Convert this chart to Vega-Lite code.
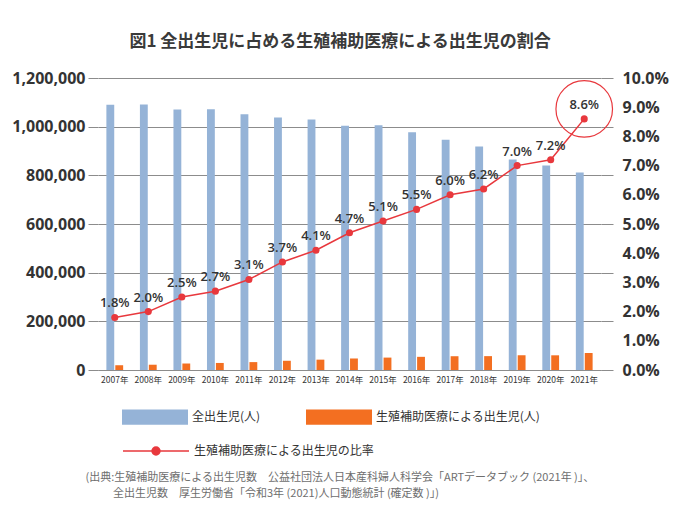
{
  "$schema": "https://vega.github.io/schema/vega-lite/v6.json",
  "width": 503,
  "height": 292,
  "autosize": {"type": "none"},
  "padding": {"left": 98, "top": 78, "right": 99, "bottom": 137},
  "background": "white",
  "title": {
    "text": "図1 全出生児に占める生殖補助医療による出生児の割合",
    "font": "Noto Sans CJK JP",
    "fontSize": 17,
    "fontWeight": "bold",
    "color": "#3a3a3a",
    "anchor": "middle",
    "frame": "bounds",
    "offset": 19
  },
  "datasets": {
    "bars": [
      {"year": "2007年", "series": "全出生児(人)", "value": 1089818},
      {"year": "2007年", "series": "生殖補助医療による出生児(人)", "value": 19595},
      {"year": "2008年", "series": "全出生児(人)", "value": 1091156},
      {"year": "2008年", "series": "生殖補助医療による出生児(人)", "value": 21704},
      {"year": "2009年", "series": "全出生児(人)", "value": 1070036},
      {"year": "2009年", "series": "生殖補助医療による出生児(人)", "value": 26680},
      {"year": "2010年", "series": "全出生児(人)", "value": 1071305},
      {"year": "2010年", "series": "生殖補助医療による出生児(人)", "value": 28945},
      {"year": "2011年", "series": "全出生児(人)", "value": 1050807},
      {"year": "2011年", "series": "生殖補助医療による出生児(人)", "value": 32426},
      {"year": "2012年", "series": "全出生児(人)", "value": 1037232},
      {"year": "2012年", "series": "生殖補助医療による出生児(人)", "value": 37953},
      {"year": "2013年", "series": "全出生児(人)", "value": 1029817},
      {"year": "2013年", "series": "生殖補助医療による出生児(人)", "value": 42554},
      {"year": "2014年", "series": "全出生児(人)", "value": 1003609},
      {"year": "2014年", "series": "生殖補助医療による出生児(人)", "value": 47322},
      {"year": "2015年", "series": "全出生児(人)", "value": 1005721},
      {"year": "2015年", "series": "生殖補助医療による出生児(人)", "value": 51001},
      {"year": "2016年", "series": "全出生児(人)", "value": 976978},
      {"year": "2016年", "series": "生殖補助医療による出生児(人)", "value": 54110},
      {"year": "2017年", "series": "全出生児(人)", "value": 946146},
      {"year": "2017年", "series": "生殖補助医療による出生児(人)", "value": 56617},
      {"year": "2018年", "series": "全出生児(人)", "value": 918400},
      {"year": "2018年", "series": "生殖補助医療による出生児(人)", "value": 56979},
      {"year": "2019年", "series": "全出生児(人)", "value": 865239},
      {"year": "2019年", "series": "生殖補助医療による出生児(人)", "value": 60598},
      {"year": "2020年", "series": "全出生児(人)", "value": 840835},
      {"year": "2020年", "series": "生殖補助医療による出生児(人)", "value": 60381},
      {"year": "2021年", "series": "全出生児(人)", "value": 811622},
      {"year": "2021年", "series": "生殖補助医療による出生児(人)", "value": 69797}
    ],
    "ratio": [
      {"year": "2007年", "ratio": 0.018},
      {"year": "2008年", "ratio": 0.020},
      {"year": "2009年", "ratio": 0.025},
      {"year": "2010年", "ratio": 0.027},
      {"year": "2011年", "ratio": 0.031},
      {"year": "2012年", "ratio": 0.037},
      {"year": "2013年", "ratio": 0.041},
      {"year": "2014年", "ratio": 0.047},
      {"year": "2015年", "ratio": 0.051},
      {"year": "2016年", "ratio": 0.055},
      {"year": "2017年", "ratio": 0.060},
      {"year": "2018年", "ratio": 0.062},
      {"year": "2019年", "ratio": 0.070},
      {"year": "2020年", "ratio": 0.072},
      {"year": "2021年", "ratio": 0.086}
    ]
  },
  "config": {
    "view": {"stroke": null},
    "axis": {"labelColor": "#333333"}
  },
  "encoding": {
    "x": {
      "field": "year",
      "type": "nominal",
      "sort": null,
      "scale": {"paddingInner": 0.5, "paddingOuter": 0.25},
      "axis": {
        "labelAngle": 0,
        "labelFont": "Noto Sans CJK JP",
        "labelFontSize": 8.5,
        "labelColor": "#333333",
        "labelPadding": 5,
        "labelOverlap": false,
        "ticks": false,
        "domainColor": "#8c8c8c",
        "title": ["(出典:生殖補助医療による出生児数　公益社団法人日本産科婦人科学会「ARTデータブック (2021年 )」、", "\u200b\u3000\u3000\u2002全出生児数　厚生労働省「令和3年 (2021)人口動態統計 (確定数 )」)"],
        "titleFont": "Noto Sans CJK JP",
        "titleFontSize": 11,
        "titleFontWeight": "normal",
        "titleColor": "#6e6e6e",
        "titleAlign": "left",
        "titleAnchor": "start",
        "titleBaseline": "top",
        "titleLineHeight": 16,
        "titleX": -13,
        "titleY": 101
      }
    }
  },
  "layer": [
    {
      "data": {"name": "bars"},
      "mark": {"type": "bar"},
      "encoding": {
        "xOffset": {"field": "series", "type": "nominal", "sort": null, "scale": {"paddingInner": 0.12}},
        "y": {
          "field": "value",
          "type": "quantitative",
          "scale": {"domain": [0, 1200000], "nice": false},
          "axis": {
            "orient": "left",
            "values": [0, 200000, 400000, 600000, 800000, 1000000, 1200000],
            "format": ",d",
            "labelFont": "Open Sans",
            "labelFontSize": 16,
            "labelFontWeight": "bold",
            "labelColor": "#333333",
            "labelPadding": 3,
            "tickSize": 10,
            "tickColor": "#8c8c8c",
            "domain": false,
            "grid": true,
            "gridColor": "#8c8c8c",
            "gridWidth": 1,
            "title": null
          }
        },
        "fill": {
          "field": "series",
          "type": "nominal",
          "sort": null,
          "scale": {"domain": ["全出生児(人)", "生殖補助医療による出生児(人)"], "range": ["#95B3D7", "#F36F21"]},
          "legend": {
            "title": null,
            "orient": "none",
            "direction": "horizontal",
            "legendX": 24,
            "legendY": 306,
            "symbolType": "M-1,-0.23H1V0.23H-1Z",
            "symbolSize": 4356,
            "symbolStrokeWidth": 0,
            "labelFont": "Noto Sans CJK JP",
            "labelFontSize": 12,
            "labelColor": "#333333",
            "labelOffset": 4,
            "columnPadding": 45,
            "labelLimit": 300
          }
        }
      }
    },
    {
      "data": {"name": "ratio"},
      "encoding": {
        "y": {
          "field": "ratio",
          "type": "quantitative",
          "scale": {"domain": [0, 0.1], "nice": false},
          "axis": {
            "orient": "right",
            "values": [0, 0.01, 0.016666666666666666, 0.02, 0.03, 0.03333333333333333, 0.04, 0.05, 0.06, 0.06666666666666667, 0.07, 0.08, 0.08333333333333333, 0.09, 0.1],
            "labelExpr": "abs(datum.value * 100 - round(datum.value * 100)) < 0.000001 ? format(datum.value, '.1%') : ''",
            "labelOverlap": false,
            "labelFont": "Open Sans",
            "labelFontSize": 16,
            "labelFontWeight": "bold",
            "labelColor": "#333333",
            "labelPadding": 9,
            "ticks": true,
            "tickSize": 12,
            "tickWidth": 1,
            "tickColor": "#8c8c8c",
            "tickOpacity": {"condition": {"test": "abs(datum.value * 60 - round(datum.value * 60)) < 0.001", "value": 1}, "value": 0},
            "domain": false,
            "grid": false,
            "title": null
          }
        }
      },
      "layer": [
        {
          "mark": {"type": "line", "strokeWidth": 1.5},
          "encoding": {
            "stroke": {
              "datum": "生殖補助医療による出生児の比率",
              "type": "nominal",
              "scale": {"range": ["#E8383D"]},
              "legend": {
                "title": null,
                "orient": "none",
                "legendX": 24,
                "legendY": 339,
                "symbolType": "M-1,0H1M-0.12,0A0.12,0.12 0 1,1 0.12,0A0.12,0.12 0 1,1 -0.12,0Z",
                "symbolSize": 4356,
                "symbolStrokeWidth": 1.5,
                "symbolFillColor": "#E8383D",
                "labelFont": "Noto Sans CJK JP",
                "labelFontSize": 12,
                "labelColor": "#333333",
                "labelOffset": 4,
                "labelLimit": 300
              }
            }
          }
        },
        {
          "mark": {"type": "point", "filled": true, "size": 50, "color": "#E8383D", "opacity": 1}
        },
        {
          "mark": {"type": "text", "dy": -14, "font": "Open Sans", "fontSize": 13, "fontWeight": 600, "color": "#333333"},
          "encoding": {"text": {"field": "ratio", "type": "quantitative", "format": ".1%"}}
        },
        {
          "transform": [{"filter": "datum.year == '2021年'"}],
          "mark": {"type": "point", "shape": "circle", "filled": false, "size": 3200, "stroke": "#E8383D", "strokeWidth": 1.2, "opacity": 1, "yOffset": -10}
        }
      ]
    }
  ],
  "resolve": {"scale": {"y": "independent", "fill": "independent", "stroke": "independent"}}
}
